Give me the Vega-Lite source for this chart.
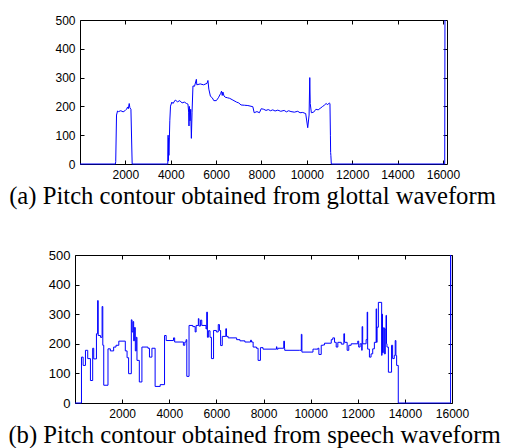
{
  "$schema": "https://vega.github.io/schema/vega-lite/v6.json",
  "background": "white",
  "padding": {"left": 7, "top": 13, "right": 0, "bottom": 2},
  "bounds": "flush",
  "center": true,
  "spacing": 91,
  "config": {
    "view": {"stroke": "black", "strokeWidth": 1},
    "axis": {
      "domain": false,
      "grid": false,
      "tickColor": "black",
      "tickSize": -4,
      "labelFont": "Arial, 'Liberation Sans', sans-serif",
      "labelFontSize": 12,
      "labelColor": "black",
      "labelPadding": 9,
      "labelOverlap": false,
      "labelFlush": false,
      "titleFont": "'Times New Roman', 'Liberation Serif', serif"
    }
  },
  "datasets": {
    "a": [
      {"t": 0, "f": 0}, {"t": 1560, "f": 0}, {"t": 1575, "f": 8}, {"t": 1610, "f": 170}, {"t": 1655, "f": 184},
      {"t": 1700, "f": 182}, {"t": 1800, "f": 185}, {"t": 1900, "f": 181}, {"t": 2000, "f": 186}, {"t": 2050, "f": 190},
      {"t": 2100, "f": 198}, {"t": 2130, "f": 192}, {"t": 2170, "f": 210}, {"t": 2200, "f": 195}, {"t": 2245, "f": 190},
      {"t": 2300, "f": 0}, {"t": 3870, "f": 0}, {"t": 3885, "f": 100}, {"t": 3895, "f": 10}, {"t": 3905, "f": 90},
      {"t": 3920, "f": 30}, {"t": 3960, "f": 150}, {"t": 3990, "f": 201}, {"t": 4050, "f": 215}, {"t": 4100, "f": 210},
      {"t": 4200, "f": 222}, {"t": 4300, "f": 216}, {"t": 4400, "f": 220}, {"t": 4500, "f": 212}, {"t": 4600, "f": 215},
      {"t": 4700, "f": 210}, {"t": 4760, "f": 208}, {"t": 4790, "f": 180}, {"t": 4805, "f": 132}, {"t": 4820, "f": 200},
      {"t": 4850, "f": 150}, {"t": 4880, "f": 190}, {"t": 4910, "f": 89}, {"t": 4940, "f": 180}, {"t": 4980, "f": 271},
      {"t": 5050, "f": 270}, {"t": 5130, "f": 294}, {"t": 5150, "f": 275}, {"t": 5300, "f": 278}, {"t": 5450, "f": 275},
      {"t": 5600, "f": 280}, {"t": 5640, "f": 290}, {"t": 5680, "f": 260}, {"t": 5750, "f": 235}, {"t": 5830, "f": 230},
      {"t": 5900, "f": 220}, {"t": 6010, "f": 220}, {"t": 6100, "f": 230}, {"t": 6200, "f": 245}, {"t": 6240, "f": 253},
      {"t": 6270, "f": 238}, {"t": 6300, "f": 250}, {"t": 6350, "f": 236}, {"t": 6400, "f": 232}, {"t": 6500, "f": 230},
      {"t": 6600, "f": 228}, {"t": 6740, "f": 222}, {"t": 6900, "f": 215}, {"t": 7000, "f": 212}, {"t": 7100, "f": 205},
      {"t": 7250, "f": 204}, {"t": 7400, "f": 203}, {"t": 7620, "f": 199}, {"t": 7680, "f": 178}, {"t": 7800, "f": 182},
      {"t": 7910, "f": 178}, {"t": 7990, "f": 192}, {"t": 8100, "f": 190}, {"t": 8200, "f": 186}, {"t": 8300, "f": 189},
      {"t": 8400, "f": 185}, {"t": 8500, "f": 188}, {"t": 8600, "f": 184}, {"t": 8720, "f": 187}, {"t": 8850, "f": 183},
      {"t": 9000, "f": 186}, {"t": 9100, "f": 181}, {"t": 9200, "f": 185}, {"t": 9300, "f": 182}, {"t": 9450, "f": 180},
      {"t": 9600, "f": 183}, {"t": 9700, "f": 178}, {"t": 9820, "f": 179}, {"t": 9950, "f": 175}, {"t": 10040, "f": 126},
      {"t": 10100, "f": 170}, {"t": 10130, "f": 300}, {"t": 10150, "f": 210}, {"t": 10200, "f": 178}, {"t": 10300, "f": 180},
      {"t": 10400, "f": 190}, {"t": 10500, "f": 188}, {"t": 10620, "f": 195}, {"t": 10700, "f": 200}, {"t": 10770, "f": 204},
      {"t": 10850, "f": 210}, {"t": 10920, "f": 206}, {"t": 10990, "f": 212}, {"t": 11020, "f": 210}, {"t": 11040, "f": 100},
      {"t": 11050, "f": 40}, {"t": 11060, "f": 30}, {"t": 11080, "f": 0}, {"t": 16080, "f": 0}, {"t": 16090, "f": 500}
    ],
    "b": [
      {"t": 0, "f": 0}, {"t": 275, "f": 155}, {"t": 345, "f": 127}, {"t": 444, "f": 178}, {"t": 540, "f": 150},
      {"t": 655, "f": 76}, {"t": 750, "f": 185}, {"t": 795, "f": 149}, {"t": 910, "f": 234}, {"t": 960, "f": 346},
      {"t": 985, "f": 228}, {"t": 1080, "f": 222}, {"t": 1150, "f": 326}, {"t": 1180, "f": 195}, {"t": 1220, "f": 60},
      {"t": 1400, "f": 183}, {"t": 1500, "f": 176}, {"t": 1640, "f": 189}, {"t": 1740, "f": 195}, {"t": 1860, "f": 209},
      {"t": 2135, "f": 176}, {"t": 2210, "f": 153}, {"t": 2275, "f": 99}, {"t": 2390, "f": 281}, {"t": 2420, "f": 240},
      {"t": 2460, "f": 275}, {"t": 2490, "f": 210}, {"t": 2520, "f": 255}, {"t": 2560, "f": 176}, {"t": 2600, "f": 222},
      {"t": 2630, "f": 144}, {"t": 2730, "f": 71}, {"t": 2840, "f": 189}, {"t": 3095, "f": 185}, {"t": 3160, "f": 155},
      {"t": 3265, "f": 185}, {"t": 3400, "f": 56}, {"t": 3615, "f": 62}, {"t": 3800, "f": 228}, {"t": 3870, "f": 211},
      {"t": 4180, "f": 220}, {"t": 4230, "f": 206}, {"t": 4600, "f": 195}, {"t": 4660, "f": 206}, {"t": 4715, "f": 214},
      {"t": 4745, "f": 90}, {"t": 4840, "f": 262}, {"t": 5000, "f": 258}, {"t": 5100, "f": 240}, {"t": 5140, "f": 262},
      {"t": 5235, "f": 285}, {"t": 5260, "f": 260}, {"t": 5330, "f": 280}, {"t": 5380, "f": 262}, {"t": 5560, "f": 250},
      {"t": 5590, "f": 307}, {"t": 5620, "f": 222}, {"t": 5660, "f": 244}, {"t": 5730, "f": 222}, {"t": 5790, "f": 150},
      {"t": 5880, "f": 245}, {"t": 6000, "f": 240}, {"t": 6080, "f": 265}, {"t": 6130, "f": 245}, {"t": 6180, "f": 194},
      {"t": 6250, "f": 225}, {"t": 6400, "f": 251}, {"t": 6430, "f": 225}, {"t": 6500, "f": 220}, {"t": 6860, "f": 214},
      {"t": 7000, "f": 210}, {"t": 7210, "f": 206}, {"t": 7450, "f": 212}, {"t": 7490, "f": 206}, {"t": 7560, "f": 189},
      {"t": 7700, "f": 185}, {"t": 7770, "f": 144}, {"t": 7870, "f": 187}, {"t": 7980, "f": 182}, {"t": 8550, "f": 190},
      {"t": 8570, "f": 182}, {"t": 8620, "f": 185}, {"t": 8860, "f": 209}, {"t": 8890, "f": 185}, {"t": 8900, "f": 178},
      {"t": 9530, "f": 178}, {"t": 9605, "f": 232}, {"t": 9630, "f": 172}, {"t": 10100, "f": 182}, {"t": 10170, "f": 182},
      {"t": 10310, "f": 185}, {"t": 10350, "f": 164}, {"t": 10450, "f": 195}, {"t": 10520, "f": 196}, {"t": 10590, "f": 202},
      {"t": 10875, "f": 214}, {"t": 10940, "f": 220}, {"t": 11015, "f": 205}, {"t": 11085, "f": 189}, {"t": 11155, "f": 205},
      {"t": 11300, "f": 199}, {"t": 11410, "f": 234}, {"t": 11440, "f": 205}, {"t": 11550, "f": 178}, {"t": 11620, "f": 195},
      {"t": 11720, "f": 200}, {"t": 12000, "f": 209}, {"t": 12040, "f": 189}, {"t": 12100, "f": 200}, {"t": 12170, "f": 178},
      {"t": 12185, "f": 258}, {"t": 12210, "f": 200}, {"t": 12355, "f": 214}, {"t": 12400, "f": 307}, {"t": 12420, "f": 182},
      {"t": 12495, "f": 155}, {"t": 12565, "f": 166}, {"t": 12635, "f": 183}, {"t": 12705, "f": 205}, {"t": 12780, "f": 318},
      {"t": 12800, "f": 205}, {"t": 12820, "f": 256}, {"t": 12875, "f": 340}, {"t": 13015, "f": 161}, {"t": 13030, "f": 300},
      {"t": 13050, "f": 170}, {"t": 13085, "f": 254}, {"t": 13130, "f": 166}, {"t": 13170, "f": 250}, {"t": 13200, "f": 296},
      {"t": 13220, "f": 200}, {"t": 13240, "f": 189}, {"t": 13300, "f": 104}, {"t": 13435, "f": 195}, {"t": 13480, "f": 150},
      {"t": 13550, "f": 161}, {"t": 13590, "f": 211}, {"t": 13620, "f": 160}, {"t": 13650, "f": 127}, {"t": 13720, "f": 0},
      {"t": 15940, "f": 500}, {"t": 15944, "f": 247}, {"t": 15948, "f": 247}
    ]
  },
  "vconcat": [
    {
      "width": 367,
      "height": 144,
      "resolve": {"axis": {"x": "independent", "y": "independent"}},
      "layer": [
        {
          "data": {"name": "a"},
          "mark": {"type": "line", "color": "#0000ff", "strokeWidth": 1, "interpolate": "linear"},
          "encoding": {
            "x": {"field": "t", "type": "quantitative", "scale": {"domain": [0, 16180], "nice": false, "zero": false},
              "axis": {"orient": "bottom", "values": [2000, 4000, 6000, 8000, 10000, 12000, 14000, 16000], "format": "d",
                "title": "(a) Pitch contour obtained from glottal waveform", "titleFontSize": 24.7,
                "titleFontWeight": "normal", "titleColor": "black", "titleX": 172, "titleY": 39, "titleAlign": "center", "titleBaseline": "alphabetic"}},
            "y": {"field": "f", "type": "quantitative", "scale": {"domain": [0, 500], "nice": false},
              "axis": {"orient": "left", "values": [0, 100, 200, 300, 400, 500], "title": null}}
          }
        },
        {
          "data": {"name": "a"},
          "mark": {"type": "line", "opacity": 0},
          "encoding": {
            "x": {"field": "t", "type": "quantitative", "axis": {"orient": "top", "values": [2000, 4000, 6000, 8000, 10000, 12000, 14000, 16000], "labels": false, "title": null}},
            "y": {"field": "f", "type": "quantitative", "axis": {"orient": "right", "values": [100, 200, 300, 400], "labels": false, "title": null}}
          }
        }
      ]
    },
    {
      "width": 377,
      "height": 148,
      "resolve": {"axis": {"x": "independent", "y": "independent"}},
      "layer": [
        {
          "data": {"name": "b"},
          "mark": {"type": "line", "color": "#0000ff", "strokeWidth": 1, "interpolate": "step-after"},
          "encoding": {
            "x": {"field": "t", "type": "quantitative", "scale": {"domain": [0, 16000], "nice": false, "zero": false},
              "axis": {"orient": "bottom", "values": [2000, 4000, 6000, 8000, 10000, 12000, 14000, 16000], "format": "d",
                "title": "(b) Pitch contour obtained from speech waveform", "titleFontSize": 24.7,
                "titleFontWeight": "normal", "titleColor": "black", "titleX": 179, "titleY": 39, "titleAlign": "center", "titleBaseline": "alphabetic"}},
            "y": {"field": "f", "type": "quantitative", "scale": {"domain": [0, 500], "nice": false},
              "axis": {"orient": "left", "values": [0, 100, 200, 300, 400, 500], "title": null, "labelFontSize": 13}}
          }
        },
        {
          "data": {"name": "b"},
          "mark": {"type": "line", "opacity": 0},
          "encoding": {
            "x": {"field": "t", "type": "quantitative", "axis": {"orient": "top", "values": [2000, 4000, 6000, 8000, 10000, 12000, 14000, 16000], "labels": false, "title": null}},
            "y": {"field": "f", "type": "quantitative", "axis": {"orient": "right", "values": [100, 200, 300, 400], "labels": false, "title": null}}
          }
        }
      ]
    }
  ]
}
